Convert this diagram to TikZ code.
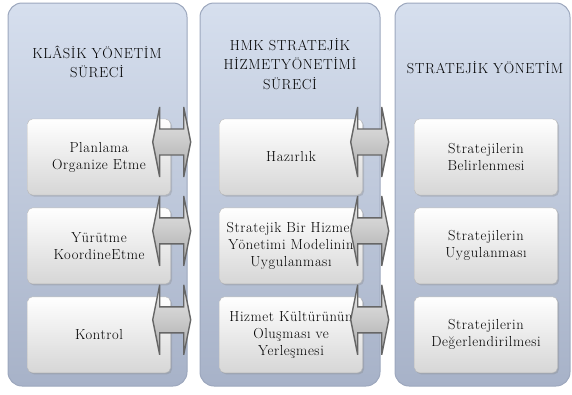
\documentclass[tikz,border=0pt]{standalone}
\usepackage{fontspec}
\setmainfont{Latin Modern Roman}[LetterSpace=4]
\usetikzlibrary{positioning, calc, shadows}

\definecolor{panelTop}{HTML}{D6DFEE}
\definecolor{panelBottom}{HTML}{A7B2C8}
\definecolor{panelEdge}{HTML}{9CA7BD}
\definecolor{boxBottom}{HTML}{D6D6D6}
\definecolor{boxEdge}{HTML}{B8B8B8}
\definecolor{arrowTop}{HTML}{EBEBEB}
\definecolor{arrowBottom}{HTML}{A9A9A9}
\definecolor{arrowEdge}{HTML}{666666}

\begin{document}
\begin{tikzpicture}[x=1pt, y=-1pt]
  \newcommand\cellwidth{143pt}
  \newcommand\cellheight{76pt}
  \newcommand\cellgap{12.5pt}
  \newcommand\headlen{7}
  \newcommand\shaftlen{24}

  \tikzset{colpanel/.style={rounded corners=14pt, draw=panelEdge, line width=1pt, top color=panelTop, bottom color=panelBottom, minimum height=383pt, inner sep=0pt}}
  \tikzset{coltitle/.style={align=center, font=\fontsize{14.5}{19.5}\selectfont}}
  \tikzset{phasebox/.style={rounded corners=5pt, draw=boxEdge, top color=white, bottom color=boxBottom, minimum width=\cellwidth, minimum height=\cellheight, align=center, inner sep=0pt, font=\fontsize{14.5}{17}\selectfont, drop shadow={shadow xshift=1.5pt, shadow yshift=-1.5pt, opacity=0.3}}}
  \tikzset{dblarr/.style={draw=arrowEdge, line width=1.4pt, line join=miter, top color=arrowTop, bottom color=arrowBottom}}

  \useasboundingbox (0,0) rectangle (572,394);

  % columns
  \node[colpanel, minimum width=179pt] at (97.5,194.5) (col1) {};
  \node[colpanel, minimum width=180pt] at (290,194.5) (col2) {};
  \node[colpanel, minimum width=175pt] at (482.5,194.5) (col3) {};

  \node[coltitle] at (97,62) (title1) {KLÂSİK YÖNETİM\\SÜRECİ};
  \node[coltitle] at (290,64) (title2) {HMK STRATEJİK\\HİZMETYÖNETİMİ\\SÜRECİ};
  \node[coltitle] at (485,68) (title3) {STRATEJİK YÖNETİM};

  % steps
  \node[phasebox] at (99,157) (k1) {Planlama\\Organize Etme};
  \node[phasebox, below=\cellgap of k1] (k2) {Yürütme\\KoordineEtme};
  \node[phasebox, below=\cellgap of k2] (k3) {Kontrol};

  \node[phasebox] at (291,157) (h1) {Hazırlık};
  \node[phasebox, below=\cellgap of h1] (h2) {Stratejik Bir Hizmet\\Yönetimi Modelinin\\Uygulanması};
  \node[phasebox, below=\cellgap of h2] (h3) {Hizmet Kültürünün\\Oluşması ve\\Yerleşmesi};

  \node[phasebox] at (486,157) (s1) {Stratejilerin\\Belirlenmesi};
  \node[phasebox, below=\cellgap of s1] (s2) {Stratejilerin\\Uygulanması};
  \node[phasebox, below=\cellgap of s2] (s3) {Stratejilerin\\Değerlendirilmesi};

  % links
  \foreach \c/\dx in {k/-18, h/-12}{
    \foreach \r in {1, 2, 3}{
      \draw[dblarr] ([xshift=\dx pt, yshift=15pt]\c\r.east) -- ++(\headlen,-35) -- ++(0,22)
        -- ++(\shaftlen,0) -- ++(0,-22) -- ++(\headlen,35) -- ++(-\headlen,35) -- ++(0,-22)
        -- ++(-\shaftlen,0) -- ++(0,22) -- cycle;
    }
  }
\end{tikzpicture}
\end{document}
